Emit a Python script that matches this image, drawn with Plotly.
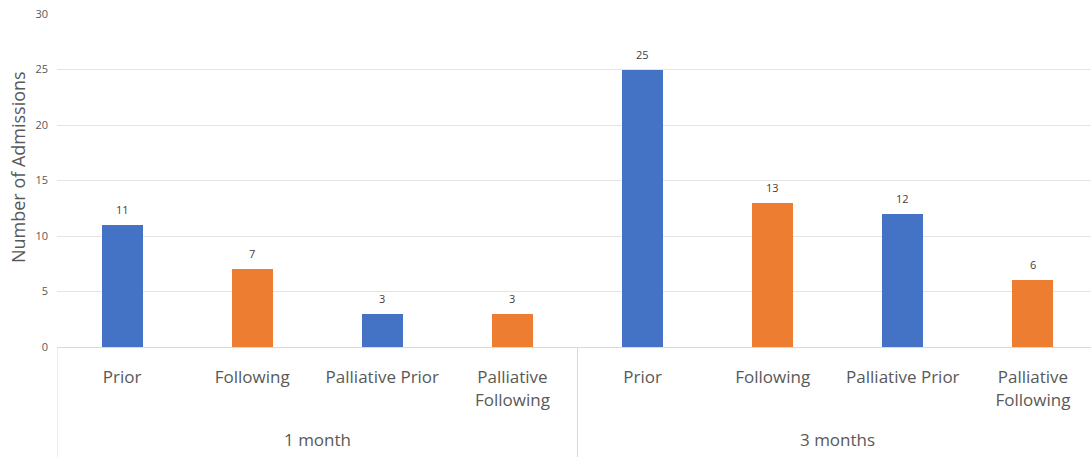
import plotly.graph_objects as go

groups = ["1 month", "3 months"]
categories = ["Prior", "Following", "Palliative Prior", "Palliative<br>Following"]
values = [11, 7, 3, 3, 25, 13, 12, 6]
bar_colors = ["#4472C4", "#ED7D31", "#4472C4", "#ED7D31",
              "#4472C4", "#ED7D31", "#4472C4", "#ED7D31"]
y_ticks = [0, 5, 10, 15, 20, 25, 30]
y_title = "Number of Admissions"

x_pos = list(range(len(values)))
tick_text = categories * len(groups)

fig = go.Figure()
fig.add_trace(go.Bar(
    x=x_pos, y=values, width=0.315,
    marker=dict(color=bar_colors, line=dict(width=0)),
    cliponaxis=False, showlegend=False,
))

for xv, v in zip(x_pos, values):
    fig.add_annotation(x=xv, y=v, xref="x", yref="y", text=str(v),
                       showarrow=False, yanchor="bottom", yshift=6,
                       font=dict(size=11, color="#404040", family="Open Sans"))

n_per = len(categories)
for gi, g in enumerate(groups):
    center = gi * n_per + (n_per - 1) / 2
    fig.add_annotation(x=center, xref="x", y=-0.279, yref="paper",
                       text=g, showarrow=False,
                       font=dict(size=17, color="#595959", family="Open Sans"),
                       yanchor="middle")
    fig.add_shape(type="line", xref="x", yref="paper",
                  x0=gi * n_per - 0.5, x1=gi * n_per - 0.5, y0=0, y1=-0.34,
                  line=dict(color="#d9d9d9", width=1))

fig.add_annotation(x=-0.0377, xref="paper", y=0.5405, yref="paper",
                   text=y_title, textangle=-90, showarrow=False,
                   xanchor="center", yanchor="middle",
                   font=dict(size=18, color="#595959", family="Open Sans"))

fig.update_layout(
    width=1091, height=457,
    margin=dict(l=57, r=0, t=14, b=110),
    plot_bgcolor="white", paper_bgcolor="white",
    bargap=0,
)
fig.update_xaxes(
    range=[-0.5, 7.446], tickvals=x_pos, ticktext=tick_text,
    tickfont=dict(size=17, color="#595959", family="Open Sans"),
    showgrid=False, showline=True, linecolor="#d9d9d9", linewidth=1,
    ticks="", ticklabelstandoff=15, zeroline=False,
)
fig.update_yaxes(
    range=[0, 30], tickvals=y_ticks,
    tickfont=dict(size=11, color="#595959", family="Open Sans"),
    gridcolor="#e4e4e4", gridwidth=1, zeroline=False, showline=False,
    ticklabelstandoff=8,
)

fig.write_html("out.html")
